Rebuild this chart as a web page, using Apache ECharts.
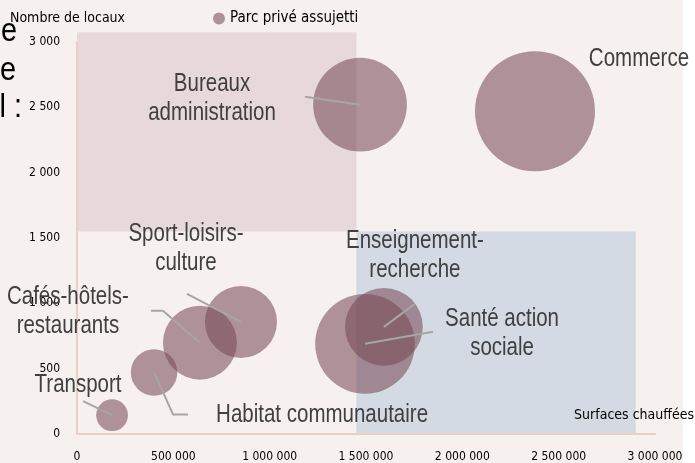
<!DOCTYPE html>
<html>
<head>
<meta charset="utf-8">
<script src="https://cdn.jsdelivr.net/npm/echarts@6/dist/echarts.min.js"></script>
<style>
html,body{margin:0;padding:0;background:#ffffff;}
#chart{width:695px;height:463px;}
</style>
</head>
<body>
<div id="chart"></div>
<script>
// ---- data ----
const categories = ['Commerce','Bureaux administration','Santé action sociale','Enseignement-recherche','Sport-loisirs-culture','Cafés-hôtels-restaurants','Habitat communautaire','Transport'];
const labelTexts = ['Commerce','Bureaux\nadministration','Santé action\nsociale','Enseignement-\nrecherche','Sport-loisirs-\nculture','Cafés-hôtels-\nrestaurants','Habitat communautaire','Transport'];
const surfaces = [2377000, 1469000, 1495000, 1593000, 851000, 638000, 400000, 182000];
const locaux   = [2470, 2520, 690, 820, 858, 699, 471, 144];
const poids    = [100, 61, 69, 42, 36, 38, 15, 7];
const seriesName = 'Parc privé assujetti';
const xTicks = [0, 500000, 1000000, 1500000, 2000000, 2500000, 3000000];
const yTicks = [0, 500, 1000, 1500, 2000, 2500, 3000];
// shaded quadrants [x0, y0, x1, y1] in data units
const zonePrive = [0, 1550, 1450000, 3075];
const zonePublic = [1450000, 0, 2900000, 1550];

// ---- annotation layout (pixel offsets from bubble centre) ----
const annot = [
  {text:[104,-52], line:[]},
  {text:[-148,-6], line:[[-55,-8]]},
  {text:[137,-10], line:[[68,-12]]},
  {text:[31,-71], line:[[31,-23]]},
  {text:[-55,-73], line:[[-54,-28]]},
  {text:[-132,-31], line:[[-37,-32],[-49,-32]]},
  {text:[168,43], line:[[19,42],[34,42]]},
  {text:[-34,-30], line:[[-29,-14]]}
];

function fmt(v){ return String(v).replace(/\B(?=(\d{3})+(?!\d))/g, '\u00a0'); }

const bubbleData = categories.map((c,i)=>({name:c, value:[surfaces[i], locaux[i], poids[i]]}));
const annotData = categories.map((c,i)=>[surfaces[i], locaux[i], i]);

const smallFont = 'DejaVu Sans Condensed';
const labelFont = 'Liberation Sans';
const narrow = 0.82;

const chart = echarts.init(document.getElementById('chart'), null, {renderer:'canvas'});
const baseGraphics = [
  {id:'bg', type:'rect', left:0, top:0, shape:{width:683, height:463}, style:{fill:'#F6F1EF'}, z:-10, silent:true},
  {id:'t1', type:'text', left:10, top:11, style:{text:'Nombre de locaux', fontFamily:smallFont, fontSize:14, fill:'#000'}, z:10},
  {id:'t2', type:'text', right:1, top:408, style:{text:'Surfaces chauffées', fontFamily:smallFont, fontSize:14, fill:'#000'}, z:10},
  {id:'f1', type:'text', x:17, y:32, scaleX:0.85, style:{text:'e', align:'right', verticalAlign:'middle', fontFamily:labelFont, fontSize:34, fill:'#000'}, z:10},
  {id:'f2', type:'text', x:16, y:71, scaleX:0.85, style:{text:'e', align:'right', verticalAlign:'middle', fontFamily:labelFont, fontSize:34, fill:'#000'}, z:10},
  {id:'f3', type:'text', x:22, y:108, scaleX:0.85, style:{text:'l :', align:'right', verticalAlign:'middle', fontFamily:labelFont, fontSize:34, fill:'#000'}, z:10}
];
chart.setOption({
  backgroundColor: 'transparent',
  animation: false,
  grid: {left:77, right:40, top:42, bottom:26, containLabel:false},
  legend: {
    data:[seriesName], left:213, top:11, padding:0, icon:'circle', itemWidth:12, itemHeight:12, itemGap:0,
    textStyle:{fontFamily:smallFont, fontSize:15, color:'#000'}, selectedMode:false
  },
  xAxis: {
    type:'value', min:xTicks[0], max:xTicks[xTicks.length-1], interval:xTicks[1]-xTicks[0],
    axisLine:{show:true, lineStyle:{color:'#EBCEC6', width:2}},
    axisTick:{show:false}, splitLine:{show:false},
    axisLabel:{formatter:fmt, margin:17, fontFamily:smallFont, fontSize:12, color:'#000'}
  },
  yAxis: {
    type:'value', min:yTicks[0], max:yTicks[yTicks.length-1], interval:yTicks[1]-yTicks[0],
    axisLine:{show:true, onZero:false, lineStyle:{color:'#EBCEC6', width:2}},
    axisTick:{show:false}, splitLine:{show:false},
    axisLabel:{formatter:fmt, margin:17, fontFamily:smallFont, fontSize:12, color:'#000'}
  },
  graphic: baseGraphics,
  series: [
    {
      type:'scatter', name:seriesName, data:bubbleData, z:3,
      symbolSize: v => 12*Math.sqrt(v[2]),
      itemStyle:{color:'rgba(117,72,84,0.7)'},
      emphasis:{disabled:true}
    },
    {
      type:'custom', name:'annotations', data:annotData, z:5, clip:false, silent:true,
      renderItem: function(params, api){
        const i = api.value(2);
        const c = api.coord([api.value(0), api.value(1)]);
        const L = annot[i];
        const children = [];
        if (L.line.length){
          children.push({type:'polyline', shape:{points:[c].concat(L.line.map(p=>[c[0]+p[0], c[1]+p[1]]))},
            style:{stroke:'#A6A6A6', lineWidth:2, fill:null}});
        }
        children.push({type:'text', x:c[0]+L.text[0], y:c[1]+L.text[1], scaleX:narrow,
          style:{text:labelTexts[i], align:'center', verticalAlign:'middle', fontFamily:labelFont, fontSize:25, lineHeight:29, fill:'#404040'}});
        return {type:'group', children:children};
      }
    }
  ]
});

// shaded zones placed through the chart's own scales
function zoneRect(id, z, color){
  const p0 = chart.convertToPixel({gridIndex:0}, [z[0], z[1]]);
  const p1 = chart.convertToPixel({gridIndex:0}, [z[2], z[3]]);
  return {id:id, type:'rect', z:-5, silent:true,
    shape:{x:Math.min(p0[0],p1[0]), y:Math.min(p0[1],p1[1]), width:Math.abs(p1[0]-p0[0]), height:Math.abs(p1[1]-p0[1])},
    style:{fill:color}};
}
chart.setOption({graphic: baseGraphics.concat([
  zoneRect('zp', zonePrive, '#E7D8DB'),
  zoneRect('zq', zonePublic, '#D3DAE4')
])});
</script>
</body>
</html>
